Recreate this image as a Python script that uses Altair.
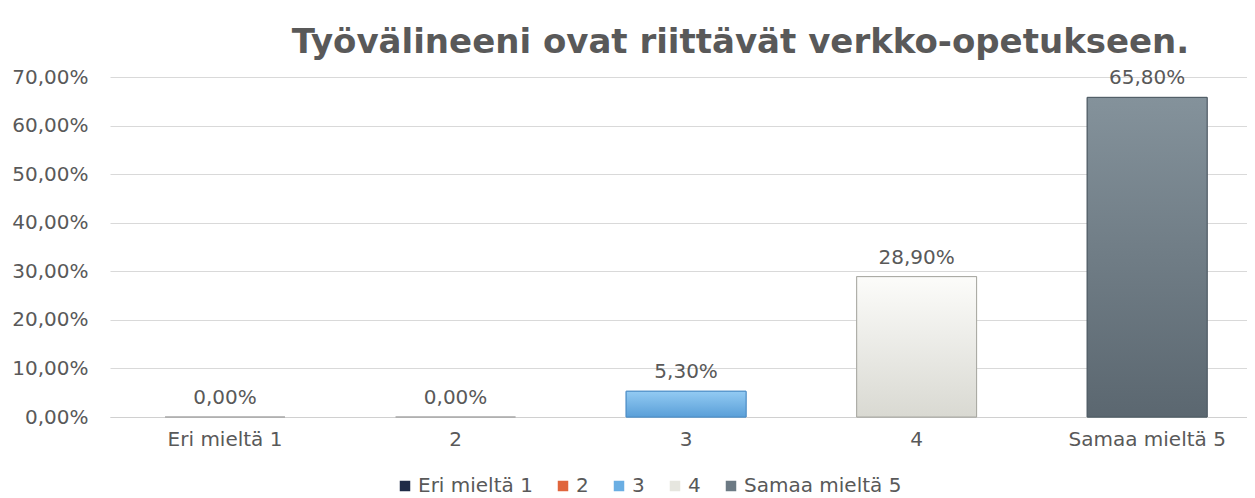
import altair as alt
import pandas as pd

# ---- data ----
categories = ["Eri mieltä 1", "2", "3", "4", "Samaa mieltä 5"]
values = [0.0, 0.0, 0.053, 0.289, 0.658]
y_ticks = [0.0, 0.1, 0.2, 0.3, 0.4, 0.5, 0.6, 0.7]
title_text = "Työvälineeni ovat riittävät verkko-opetukseen."

# ---- styles ----
bar_colors = ["#1f2b47", "#e0653c", "#6aaee3", "#e6e6df", "#6c7a84"]
edge_colors = ["#a6a6a6", "#a6a6a6", "#4d8ec6", "#a9a9a3", "#4f5c65"]
grad_top = [None, None, "#93cbf3", "#fcfcfa", "#84929b"]
grad_bottom = [None, None, "#5a9fd8", "#d9d9d2", "#5b6770"]

FONT = "DejaVu Sans"
TEXT = "#595959"

df = pd.DataFrame({"cat": categories, "value": values})

x_enc = alt.X(
    "cat:N",
    sort=categories,
    scale=alt.Scale(domain=categories, paddingInner=0.48, paddingOuter=0.206, align=0.58),
    axis=alt.Axis(
        title=None, labelAngle=0, ticks=False, labelPadding=12,
        labelFontSize=20, labelFont=FONT, labelColor=TEXT,
        domainColor="#d0d0d0", grid=False,
    ),
)
y_enc = alt.Y(
    "value:Q",
    scale=alt.Scale(domain=[0, 0.7], nice=False),
    axis=alt.Axis(
        title=None, values=y_ticks,
        labelExpr="replace(format(datum.value, '.2%'), '.', ',')",
        ticks=False, tickSize=0, labelPadding=22, domain=False,
        gridColor="#d9d9d9", labelFontSize=20, labelFont=FONT, labelColor=TEXT,
    ),
)

base = alt.Chart(df).mark_bar(strokeWidth=1).encode(
    x=x_enc,
    y=y_enc,
    color=alt.Color(
        "cat:N",
        scale=alt.Scale(domain=categories, range=bar_colors),
        legend=alt.Legend(
            title=None, orient="none", legendX=285, legendY=399,
            direction="horizontal", symbolType="square", symbolSize=110,
            symbolStrokeWidth=0, labelFontSize=20, labelFont=FONT,
            labelColor=TEXT, columnPadding=20, labelOffset=3, padding=0,
        ),
    ),
    stroke=alt.Stroke(
        "cat:N", scale=alt.Scale(domain=categories, range=edge_colors), legend=None
    ),
)

layers = [base]
for i, cat in enumerate(categories):
    if grad_top[i] is None:
        continue
    grad = alt.LinearGradient(
        gradient="linear",
        stops=[
            alt.GradientStop(color=grad_top[i], offset=0),
            alt.GradientStop(color=grad_bottom[i], offset=1),
        ],
        x1=0, x2=0, y1=0, y2=1,
    )
    layers.append(
        alt.Chart(df)
        .transform_filter(alt.datum.cat == cat)
        .mark_bar(fill=grad, stroke=edge_colors[i], strokeWidth=1)
        .encode(x=alt.X("cat:N", sort=categories), y=alt.Y("value:Q"))
    )

labels = (
    alt.Chart(df)
    .transform_calculate(label="replace(format(datum.value, '.2%'), '.', ',')")
    .mark_text(baseline="bottom", dy=-9, fontSize=20, font=FONT, color=TEXT)
    .encode(x=alt.X("cat:N", sort=categories), y=alt.Y("value:Q"), text="label:N")
)
layers.append(labels)

chart = (
    alt.layer(*layers)
    .properties(
        width=1137,
        height=340,
        title=alt.TitleParams(
            title_text, font=FONT, fontSize=34, fontWeight="bold", color=TEXT,
            anchor="middle", dx=62, dy=-3, frame="group",
        ),
        autosize=alt.AutoSizeParams(type="none"),
        padding={"left": 102, "top": 69, "right": 0, "bottom": 79},
    )
    .configure_view(stroke=None)
)

chart.save("out.html", embed_options={"renderer": "svg", "actions": False})
